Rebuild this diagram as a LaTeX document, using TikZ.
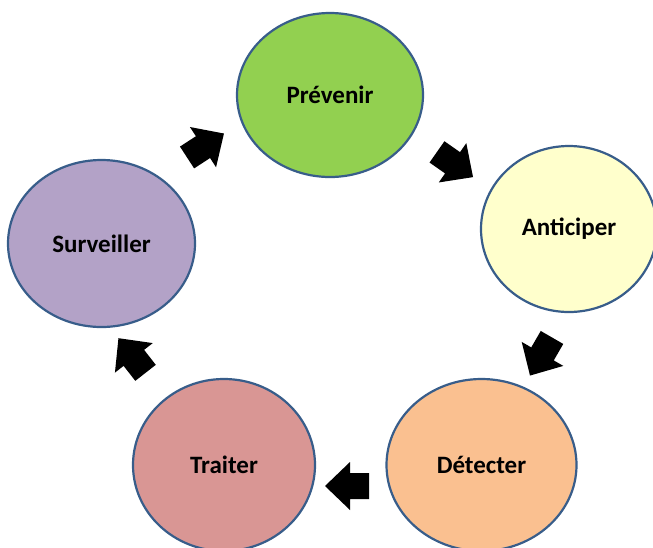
\documentclass[tikz,border=0pt]{standalone}
\usepackage{fontspec}
\setmainfont{Carlito}
\usetikzlibrary{shapes.geometric}
\definecolor{edgeblue}{RGB}{56,93,138}
\definecolor{cgreen}{RGB}{146,208,80}
\definecolor{cyellow}{RGB}{255,255,204}
\definecolor{corange}{RGB}{250,192,144}
\definecolor{cred}{RGB}{217,150,148}
\definecolor{cpurple}{RGB}{179,162,199}
\tikzset{
  phase/.style={ellipse, draw=edgeblue, line width=2.2pt, inner sep=0pt,
    font=\fontsize{25}{30}\selectfont\bfseries, text=black},
  blockarrow/.pic={\fill[black] (-22,-13) -- (-3,-13) -- (-3,-24) -- (22,0) -- (-3,24) -- (-3,13) -- (-22,13) -- cycle;}
}
\begin{document}
\begin{tikzpicture}[x=1pt,y=-1pt]
\useasboundingbox (0,0) rectangle (653,547);
\node[phase, fill=cgreen, minimum width=186pt, minimum height=164pt] (prev) at (330,95) {Prévenir};
\node[phase, fill=cyellow, minimum width=176pt, minimum height=166pt] (anti) at (569,229) {Anticiper};
\node[phase, fill=corange, minimum width=190pt, minimum height=172pt] (dete) at (481.5,465) {Détecter};
\node[phase, fill=cred, minimum width=182pt, minimum height=172pt] (trai) at (224,465) {Traiter};
\node[phase, fill=cpurple, minimum width=187pt, minimum height=167pt] (surv) at (101.5,243.5) {Surveiller};
\pic[rotate=33] at (205.5,145.5) {blockarrow};
\pic[rotate=-35] at (455,164.5) {blockarrow};
\pic[rotate=240] at (541,356.5) {blockarrow};
\pic[rotate=180] at (347,486) {blockarrow};
\pic[rotate=128] at (132,355.5) {blockarrow};
\end{tikzpicture}
\end{document}
